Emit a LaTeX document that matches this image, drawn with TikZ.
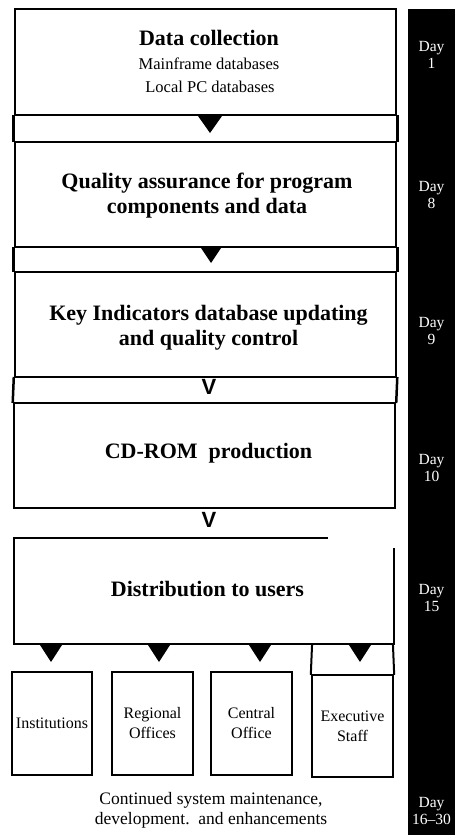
\documentclass[tikz,border=0pt]{standalone}
\usepackage{fontspec}
\setmainfont{Liberation Serif}
\newfontfamily\vfont{Liberation Sans}
\begin{document}
\begin{tikzpicture}[x=1bp,y=-1bp,
  bigbox/.style={draw, line width=2.5bp, minimum width=381bp, inner sep=0pt},
  frameline/.style={line width=2.5bp, line cap=rect},
  title/.style={font=\fontsize{22bp}{25bp}\selectfont\bfseries, align=center, inner sep=0pt},
  sub/.style={font=\fontsize{16.5bp}{20bp}\selectfont, inner sep=0pt},
  smallbox/.style={draw, line width=1.2bp, minimum width=81bp, minimum height=103bp, inner sep=0pt, align=center, font=\fontsize{16bp}{20bp}\selectfont},
  daylab/.style={text=white, align=center, inner sep=0pt, font=\fontsize{15.5bp}{17bp}\selectfont},
  vmark/.style={font=\vfont\bfseries\fontsize{22bp}{22bp}\selectfont, inner sep=0pt},
  caption/.style={align=center, inner sep=0pt, font=\fontsize{17.5bp}{20bp}\selectfont}
]
\useasboundingbox (0,0) rectangle (462,835);
\fill[white] (0,0) rectangle (462,835);

% black day bar
\node[fill=black, minimum width=47bp, minimum height=826bp, inner sep=0pt] (bar) at (431.5,422) {};

% main boxes
\node[bigbox, minimum height=106bp] (b1) at (205.5,62) {};
\node[bigbox, minimum height=105bp] (b2) at (205.5,194.5) {};
\node[bigbox, minimum height=105bp] (b3) at (205.5,324.5) {};
\node[bigbox, minimum height=105bp] (b4) at (204.5,455.5) {};
\coordinate (b5tl) at (14,538);
\coordinate (b5tr) at (327,538);
\coordinate (b5rt) at (394,549);
\coordinate (b5br) at (394,644);
\coordinate (b5bl) at (14,644);
\draw[frameline] (b5tr) -- (b5tl) -- (b5bl) -- (b5br) -- (b5rt);

% gap frames (side lines between boxes)
\draw[frameline] (b1.south west) -- (b2.north west);
\draw[frameline] (b1.south east) -- (b2.north east);
\draw[frameline] (b2.south west) -- (b3.north west);
\draw[frameline] (b2.south east) -- (b3.north east);
\draw[frameline] (b3.south west) -- (b4.north west);
\draw[frameline] (b3.south east) -- (b4.north east);

% texts in main boxes
\node[title, anchor=base] (t1) at (209,45) {Data collection};
\node[sub, anchor=base] (t1a) at (209,69) {Mainframe databases};
\node[sub, anchor=base] (t1b) at (210,92) {Local PC databases};
\node[title] (t2) at (207,196) {Quality assurance for program\\components and data};
\node[title] (t3) at (208.5,328) {Key Indicators database updating\\and quality control};
\node[title] (t4) at (208.5,453) {CD-ROM\ \ production};
\node[title] (t5) at (207.5,589) {Distribution to users};

% arrow marks between boxes
\fill (198,116) -- (222,116) -- (210,133) -- cycle;
\fill (201,248) -- (221,248) -- (211,263) -- cycle;
\node[vmark] (v1) at (209,387) {V};
\node[vmark] (v2) at (209,519.5) {V};

% bottom triangles
\fill (40,645) -- (62,645) -- (51,662) -- cycle;
\fill (148,645) -- (170,645) -- (159,662) -- cycle;
\fill (249,645) -- (271,645) -- (260,662) -- cycle;
\fill (349,645) -- (371,645) -- (360,662) -- cycle;

% user boxes
\node[smallbox, minimum width=80bp] (inst) at (52,723.5) {Institutions};
\node[smallbox] (reg) at (152.5,723.5) {Regional\\Offices};
\node[smallbox] (cen) at (251.5,723.5) {Central\\Office};
\node[smallbox, line width=2.3bp, minimum height=102bp] (exe) at (352.5,726) {Executive\\Staff};
\coordinate (exl) at (312,646);
\coordinate (exr) at (393,646);
\draw[line width=2bp, line cap=rect] (exl) -- (exe.north west);
\draw[line width=2bp, line cap=rect] (exr) -- (exe.north east);

% caption
\node[caption] (cap) at (211,810) {Continued system maintenance,\\development.\ \ and enhancements};

% day labels
\node[daylab] (d1) at (431.5,55) {Day\\1};
\node[daylab] (d8) at (431.5,195) {Day\\8};
\node[daylab] (d9) at (431.5,331) {Day\\9};
\node[daylab] (d10) at (431.5,468) {Day\\10};
\node[daylab] (d15) at (431.5,598) {Day\\15};
\node[daylab] (d16) at (431.5,811) {Day\\16--30};
\end{tikzpicture}
\end{document}
